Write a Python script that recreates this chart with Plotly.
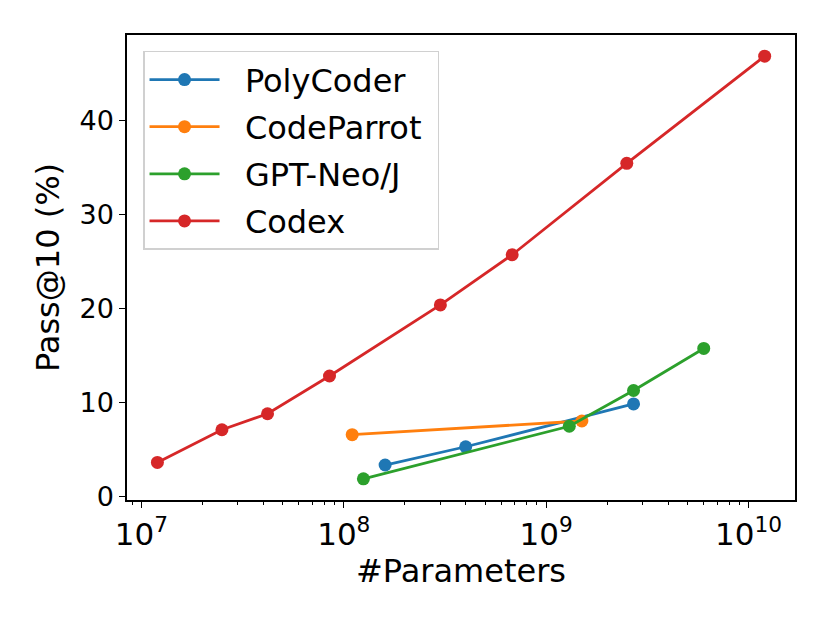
import plotly.graph_objects as go

# Data: number of parameters and pass@10 (%)
polycoder_params = [160e6, 400e6, 2.7e9]
polycoder_pass10 = [3.35, 5.29, 9.84]

codeparrot_params = [110e6, 1.5e9]
codeparrot_pass10 = [6.57, 8.03]

gptneo_params = [125e6, 1.3e9, 2.7e9, 6e9]
gptneo_pass10 = [1.88, 7.47, 11.27, 15.74]

codex_params = [12e6, 25e6, 42e6, 85e6, 300e6, 679e6, 2.5e9, 12e9]
codex_pass10 = [3.62, 7.1, 8.8, 12.81, 20.37, 25.7, 35.42, 46.81]

x_tick_vals = [1e7, 1e8, 1e9, 1e10]
x_tick_text = ["10<sup>7</sup>", "10<sup>8</sup>", "10<sup>9</sup>", "10<sup>10</sup>"]
y_tick_vals = [0, 10, 20, 30, 40]

series = [
    ("PolyCoder", polycoder_params, polycoder_pass10, "#1f77b4"),
    ("CodeParrot", codeparrot_params, codeparrot_pass10, "#ff7f0e"),
    ("GPT-Neo/J", gptneo_params, gptneo_pass10, "#2ca02c"),
    ("Codex", codex_params, codex_pass10, "#d62728"),
]

FONT = "DejaVu Sans"
PAD_L = "\u00a0\u00a0"
PAD_R = "\u00a0"

fig = go.Figure()
for name, xs, ys, color in series:
    fig.add_trace(go.Scatter(
        x=xs, y=ys, name=PAD_L + name + PAD_R, legendgroup=name, mode="lines+markers",
        line=dict(color=color, width=2.8),
        marker=dict(color=color, size=13),
    ))

# page body has an 8px default margin; compensate so the plot area lands where the reference has it
fig.update_layout(
    width=822, height=615,
    margin=dict(l=119, r=35, t=27, b=123),
    paper_bgcolor="white", plot_bgcolor="white",
    font=dict(family=FONT, color="black"),
    showlegend=True,
    legend=dict(
        x=0.024, y=0.966, xanchor="left", yanchor="top",
        bgcolor="white", bordercolor="#d0d0d0", borderwidth=1.5,
        font=dict(family=FONT, size=32, color="black"),
        itemwidth=70,
        tracegroupgap=2.5,
    ),
)

fig.update_xaxes(
    type="log", range=[6.929, 10.229],
    showgrid=False, zeroline=False,
    showline=True, linecolor="black", linewidth=1.5, mirror=True,
    ticks="outside", ticklen=6, tickwidth=1.3, tickcolor="black",
    tickvals=x_tick_vals, ticktext=x_tick_text,
    tickfont=dict(family=FONT, size=31, color="black"),
    minor=dict(ticks="outside", ticklen=3.5, tickwidth=1, tickcolor="black", dtick="D1", showgrid=False),
    title=dict(text="#Parameters", font=dict(family=FONT, size=32, color="black"), standoff=8),
)
fig.update_yaxes(
    range=[-0.37, 49.06],
    showgrid=False, zeroline=False,
    showline=True, linecolor="black", linewidth=1.5, mirror=True,
    ticks="outside", ticklen=6, tickwidth=1.3, tickcolor="black",
    tickvals=y_tick_vals,
    tickfont=dict(family=FONT, size=27, color="black"),
    title=dict(text="Pass@10 (%)", font=dict(family=FONT, size=32, color="black"), standoff=10),
)

fig.write_html("out.html")
